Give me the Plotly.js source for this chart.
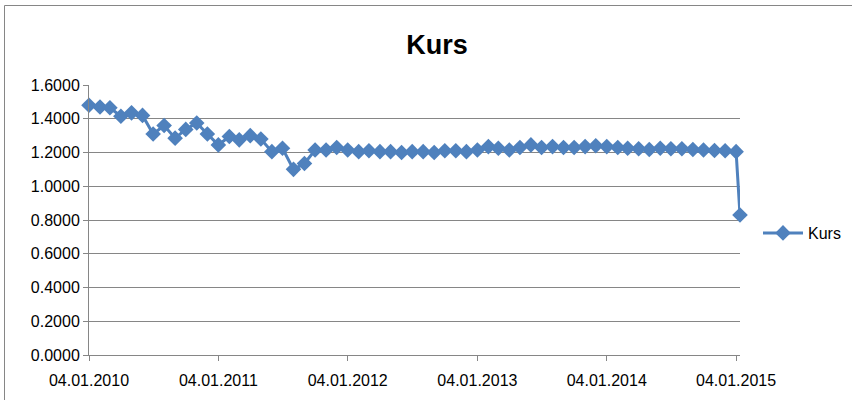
<!DOCTYPE html>
<html>
<head>
<meta charset="utf-8">
<script src="https://cdn.plot.ly/plotly-3.0.1.min.js"></script>
<style>
html,body{margin:0;padding:0;background:#fff;}
#chart{width:852px;height:400px;}
</style>
</head>
<body>
<div id="chart"></div>
<script>
// Dates (monthly, 4th of each month) plus the 15.01.2015 drop
const dates = [
  "2010-01-04","2010-02-04","2010-03-04","2010-04-04","2010-05-04","2010-06-04",
  "2010-07-04","2010-08-04","2010-09-04","2010-10-04","2010-11-04","2010-12-04",
  "2011-01-04","2011-02-04","2011-03-04","2011-04-04","2011-05-04","2011-06-04",
  "2011-07-04","2011-08-04","2011-09-04","2011-10-04","2011-11-04","2011-12-04",
  "2012-01-04","2012-02-04","2012-03-04","2012-04-04","2012-05-04","2012-06-04",
  "2012-07-04","2012-08-04","2012-09-04","2012-10-04","2012-11-04","2012-12-04",
  "2013-01-04","2013-02-04","2013-03-04","2013-04-04","2013-05-04","2013-06-04",
  "2013-07-04","2013-08-04","2013-09-04","2013-10-04","2013-11-04","2013-12-04",
  "2014-01-04","2014-02-04","2014-03-04","2014-04-04","2014-05-04","2014-06-04",
  "2014-07-04","2014-08-04","2014-09-04","2014-10-04","2014-11-04","2014-12-04",
  "2015-01-04","2015-01-15"
];
const kurs = [
  1.480,1.470,1.465,1.415,1.435,1.420,
  1.310,1.360,1.285,1.337,1.375,1.310,
  1.245,1.295,1.275,1.300,1.280,1.205,
  1.225,1.100,1.135,1.215,1.215,1.230,
  1.215,1.205,1.210,1.205,1.205,1.200,
  1.205,1.205,1.200,1.210,1.210,1.205,
  1.215,1.235,1.225,1.215,1.230,1.245,
  1.230,1.235,1.230,1.230,1.235,1.240,
  1.235,1.230,1.225,1.222,1.218,1.225,
  1.222,1.222,1.218,1.215,1.212,1.210,
  1.205,0.830
];
const seriesName = "Kurs";
const chartTitle = "Kurs";

const gridColor = "#868686";
const font = "Liberation Sans, Arial, sans-serif";

const trace = {
  x: dates, y: kurs, name: seriesName,
  type: "scatter", mode: "lines+markers",
  line: {color: "#4F81BD", width: 3},
  marker: {symbol: "diamond", size: 12, color: "#4F81BD"},
  cliponaxis: false
};

const pl = 89, pr = 740, pt = 85, pb = 355;
const pw = pr - pl, ph = pb - pt;
const px = v => (v - pl) / pw;
const py = v => (pb - v) / ph;

const layout = {
  width: 852, height: 400,
  margin: {l: pl, r: 852 - pr, t: pt, b: 400 - pb, pad: 0, autoexpand: false},
  paper_bgcolor: "#fff", plot_bgcolor: "#fff",
  font: {family: font, size: 16, color: "#000"},
  title: {text: "<b>" + chartTitle + "</b>", font: {family: font, size: 27, color: "#000"},
          x: 437/852, xanchor: "center", y: 1 - 45/400, yanchor: "middle",
          xref: "container", yref: "container"},
  xaxis: {
    type: "date", range: ["2010-01-04", "2015-01-15"],
    tick0: "2010-01-04", dtick: "M12", tickformat: "%d.%m.%Y",
    showgrid: false, zeroline: false,
    showline: true, linecolor: gridColor, linewidth: 1,
    ticks: "outside", ticklen: 5, tickcolor: gridColor,
    ticklabelstandoff: 6,
    tickfont: {family: font, size: 16, color: "#000"},
    fixedrange: true
  },
  yaxis: {
    range: [0, 1.6], dtick: 0.2, tickformat: ".4f",
    showgrid: true, gridcolor: gridColor, gridwidth: 1,
    zeroline: false,
    showline: true, linecolor: gridColor, linewidth: 1,
    ticks: "outside", ticklen: 5, tickcolor: gridColor,
    tickfont: {family: font, size: 16, color: "#000"},
    fixedrange: true
  },
  showlegend: true,
  legend: {
    x: px(758), xanchor: "left", y: py(233), yanchor: "middle",
    itemwidth: 40,
    bgcolor: "rgba(0,0,0,0)", borderwidth: 0,
    font: {family: font, size: 16, color: "#000"}
  },
  shapes: [
    {type: "line", xref: "paper", yref: "paper", x0: px(4.5), x1: px(4.5), y0: py(5.5), y1: py(420),
     line: {color: gridColor, width: 1}},
    {type: "line", xref: "paper", yref: "paper", x0: px(4.5), x1: px(870), y0: py(5.5), y1: py(5.5),
     line: {color: gridColor, width: 1}}
  ]
};

Plotly.newPlot("chart", [trace], layout, {displayModeBar: false, staticPlot: true});
</script>
</body>
</html>
